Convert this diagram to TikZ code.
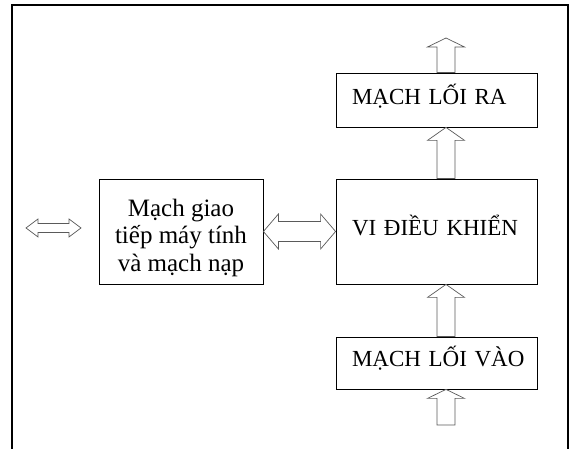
\documentclass[tikz,border=0pt]{standalone}
\usepackage{fontspec}
\setmainfont{Liberation Serif}
\usepackage{tikz}
\usetikzlibrary{calc,positioning}
\usepackage{xcolor}
\definecolor{arrowgray}{HTML}{5A5A5A}

\tikzset{
	box/.style = {draw, line width=0.8pt, inner sep=0pt},
	capbox/.style = {box, text width=169pt, inner xsep=16pt, align=left, font=\fontsize{23}{26}\selectfont},
	blkarrow/.style = {draw=arrowgray, line width=0.7pt, fill=white, line join=miter}
}

% hollow block arrow pointing up: #1 start, #2 tip, #3 head length
\newcommand{\blkup}[3]{%
	\draw[blkarrow] let \p1=(#1), \p2=(#2) in
		(\x1-9,\y1) -- (\x1-9,\y2-#3) -- (\x1-18.5,\y2-#3) -- (\x2,\y2)
		-- (\x1+18.5,\y2-#3) -- (\x1+9,\y2-#3) -- (\x1+9,\y1) -- cycle;}
% hollow double block arrow: #1 left tip, #2 right tip, #3 head length, #4 head half, #5 shaft half
\newcommand{\blkdouble}[5]{%
	\draw[blkarrow] let \p1=(#1), \p2=(#2) in
		(\x1,\y1) -- (\x1+#3,\y1+#4) -- (\x1+#3,\y1+#5) -- (\x2-#3,\y1+#5) -- (\x2-#3,\y1+#4)
		-- (\x2,\y1) -- (\x2-#3,\y1-#4) -- (\x2-#3,\y1-#5) -- (\x1+#3,\y1-#5) -- (\x1+#3,\y1-#4) -- cycle;}

\begin{document}
\begin{tikzpicture}[x=1pt, y=-1pt]
		\useasboundingbox (0,0) rectangle (571,449);
		% frame
		\draw[line width=2pt] (12,449) -- (12,5) -- (568,5) -- (568,449);

		% blocks
		\node[box, minimum width=164pt, minimum height=105pt, align=center,
			font=\fontsize{25}{27.5}\selectfont] (pc) at (181,231.5) {\rule{0pt}{30pt}Mạch giao\\tiếp máy tính\\và mạch nạp};
		\node[capbox, minimum height=105pt] (vi) at (436.5,231.5) {\mbox{VI ĐIỀU KHIỂN}\rule[-12pt]{0pt}{12pt}};
		\node[capbox, minimum height=54pt] (ra) at (436.5,100) {\mbox{MẠCH LỐI RA}\rule[-11pt]{0pt}{11pt}};
		\node[capbox, minimum height=52pt] (vao) at (436.5,363) {\mbox{MẠCH LỐI VÀO}\rule[-14pt]{0pt}{14pt}};

		% free ends
		\coordinate (out) at (446,38);
		\coordinate (in) at (446,425);
		\coordinate (pcl) at (26,228);
		\coordinate (pcr) at (81,228);

		% arrows
		\blkup{[xshift=9.5pt]ra.north}{out}{9}
		\blkup{[xshift=9.5pt]vi.north}{[xshift=9.5pt]ra.south}{13}
		\blkup{[xshift=9.5pt]vao.north}{[xshift=9.5pt]vi.south}{13}
		\blkup{in}{[xshift=9.5pt]vao.south}{9}
		\blkdouble{pc.east}{vi.west}{15}{17.5}{10}
		\blkdouble{pcl}{pcr}{12}{9}{4.5}
	\end{tikzpicture}
\end{document}
